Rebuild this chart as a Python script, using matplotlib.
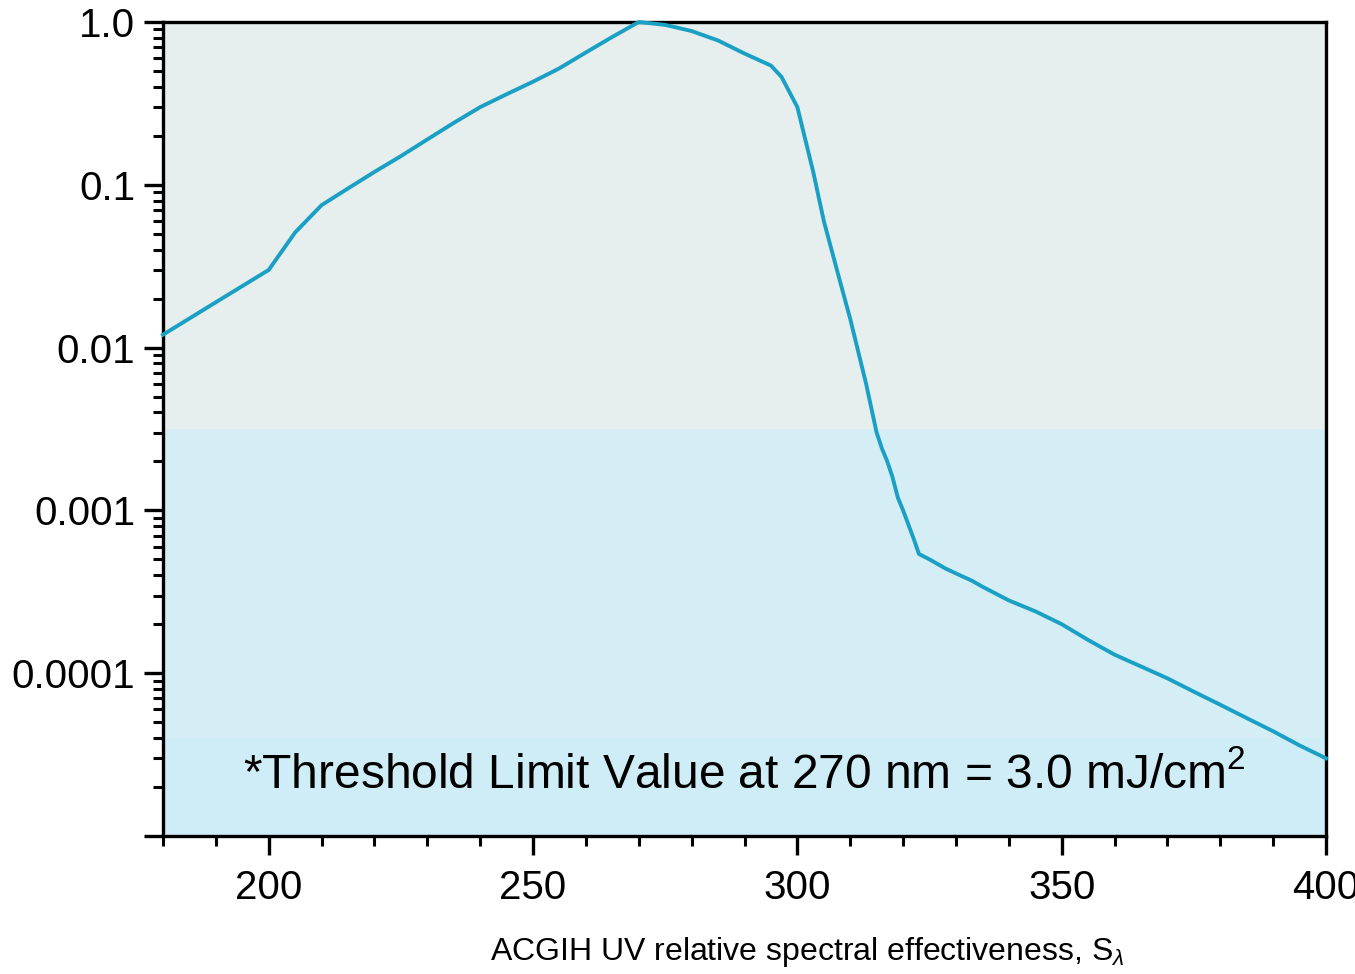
import numpy as np
import matplotlib
matplotlib.use("Agg")
import matplotlib.pyplot as plt
from matplotlib.ticker import FixedLocator, LogLocator, NullFormatter, FixedFormatter

plt.rcParams['font.family'] = ['Liberation Sans', 'DejaVu Sans']
plt.rcParams['mathtext.fontset'] = 'custom'
plt.rcParams['mathtext.rm'] = 'Liberation Sans'
plt.rcParams['mathtext.it'] = 'Liberation Sans:italic'

# ACGIH relative spectral effectiveness
wavelength = [180, 190, 200, 205, 210, 215, 220, 225, 230, 235, 240, 245, 250, 254, 255,
              260, 265, 270, 275, 280, 285, 290, 295, 297, 300, 303, 305, 308, 310, 313,
              315, 316, 317, 318, 319, 320, 322, 323, 325, 328, 330, 333, 335, 340, 345,
              350, 355, 360, 365, 370, 375, 380, 385, 390, 395, 400]
s_lambda = [0.012, 0.019, 0.030, 0.051, 0.075, 0.095, 0.120, 0.150, 0.190, 0.240, 0.300,
            0.360, 0.430, 0.500, 0.520, 0.650, 0.810, 1.000, 0.960, 0.880, 0.770, 0.640,
            0.540, 0.460, 0.300, 0.120, 0.060, 0.026, 0.015, 0.006, 0.003, 0.0024, 0.0020,
            0.0016, 0.0012, 0.0010, 0.00067, 0.00054, 0.00050, 0.00044, 0.00041, 0.00037,
            0.00034, 0.00028, 0.00024, 0.00020, 0.00016, 0.00013, 0.00011, 0.000093,
            0.000077, 0.000064, 0.000053, 0.000044, 0.000036, 0.000030]

x_ticks = [200, 250, 300, 350, 400]
y_ticks = [1e-5, 1e-4, 1e-3, 1e-2, 1e-1, 1.0]
y_labels = ['', '0.0001', '0.001', '0.01', '0.1', '1.0']

# background bands (lower edges in data units)
band_edges = [1e-5, 4.0e-5, 3.14e-3, 1.0]
band_colors = ['#cfedf6', '#d5eef5', '#e6eeee']

fig = plt.figure(figsize=(13.55, 9.74), dpi=100)
ax = fig.add_axes([163/1355, 1 - 836/974, (1326-163)/1355, (836-22)/974])

for lo, hi, c in zip(band_edges[:-1], band_edges[1:], band_colors):
    ax.axhspan(lo, hi, color=c, lw=0, zorder=0)

ax.plot(wavelength, s_lambda, color='#1aa0c4', lw=2.8, zorder=3, clip_on=False)

ax.set_yscale('log')
ax.set_xlim(180, 400)
ax.set_ylim(1e-5, 1.0)

ax.xaxis.set_major_locator(FixedLocator(x_ticks))
ax.xaxis.set_minor_locator(FixedLocator(np.arange(180, 401, 10)))
ax.yaxis.set_major_locator(FixedLocator(y_ticks))
ax.yaxis.set_major_formatter(FixedFormatter(y_labels))
ax.yaxis.set_minor_locator(LogLocator(base=10, subs=np.arange(2, 10)))
ax.yaxis.set_minor_formatter(NullFormatter())

ax.tick_params(axis='both', which='major', direction='out', length=14, width=2.4,
               labelsize=29, pad=6, color='black')
ax.tick_params(axis='both', which='minor', direction='out', length=7, width=2.2, color='black')
ax.tick_params(axis='x', which='major', pad=10)
ax.tick_params(top=False, right=False, which='both')

for s in ax.spines.values():
    s.set_linewidth(2.4)
    s.set_color('black')

ax.text(0.5, 0.075, r'*Threshold Limit Value at 270 nm = 3.0 mJ/cm$^{2}$',
        transform=ax.transAxes, ha='center', va='center', fontsize=34.5, zorder=4)

fig.text(807/1355, 1 - 952/974, r'ACGIH UV relative spectral effectiveness, S$_{\lambda}$',
         ha='center', va='center', fontsize=23)

fig.savefig('out.png', dpi=100)
